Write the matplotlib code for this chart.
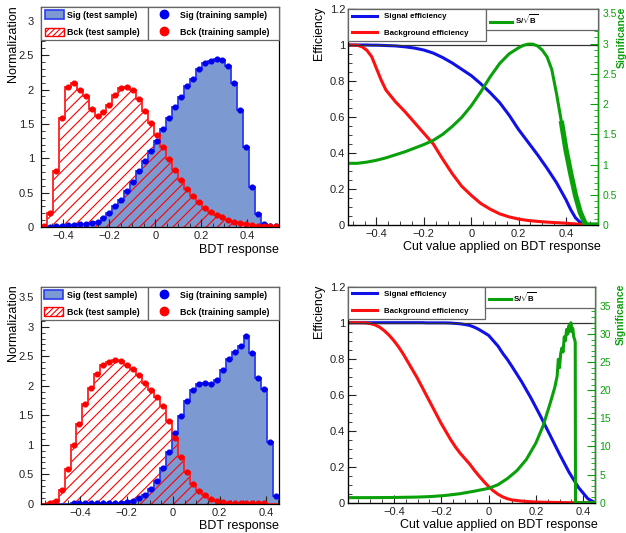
import numpy as np
import matplotlib
matplotlib.use('Agg')
import matplotlib.pyplot as plt
from matplotlib.patches import Patch
from matplotlib.lines import Line2D
from matplotlib.ticker import MultipleLocator, FuncFormatter

plt.rcParams['font.family'] = ['Liberation Sans', 'DejaVu Sans']
plt.rcParams['hatch.linewidth'] = 0.8
plt.rcParams['mathtext.fontset'] = 'custom'
plt.rcParams['mathtext.bf'] = 'Liberation Sans:bold'

SIG_FILL = '#7d99d1'
GREEN = '#0aa00a'

# ---------------- BDT output distributions (40 bins, normalised) ----------------
top_range = (-0.497, 0.537)
top_sig = [0.0, 0.005, 0.01, 0.02, 0.03, 0.035, 0.04, 0.05, 0.06, 0.08,
           0.13, 0.21, 0.30, 0.40, 0.52, 0.66, 0.81, 0.96, 1.10, 1.25,
           1.43, 1.58, 1.74, 1.89, 2.05, 2.16, 2.30, 2.38, 2.42, 2.45,
           2.43, 2.34, 2.10, 1.70, 1.17, 0.58, 0.19, 0.04, 0.02, 0.01]
top_bkg = [0.02, 0.20, 0.82, 1.59, 2.04, 2.10, 1.99, 1.90, 1.72, 1.61,
           1.67, 1.78, 1.92, 2.02, 2.04, 1.99, 1.86, 1.69, 1.52, 1.34,
           1.17, 0.99, 0.83, 0.68, 0.55, 0.45, 0.36, 0.28, 0.22, 0.17,
           0.14, 0.10, 0.08, 0.06, 0.04, 0.03, 0.02, 0.02, 0.01, 0.01]

bot_range = (-0.569, 0.457)
bot_sig = [0.0, 0.0, 0.0, 0.0, 0.0, 0.005, 0.005, 0.005, 0.005, 0.005,
           0.01, 0.01, 0.015, 0.02, 0.03, 0.05, 0.09, 0.15, 0.25, 0.38,
           0.60, 0.87, 1.20, 1.49, 1.74, 1.92, 2.03, 2.04, 2.03, 2.09,
           2.26, 2.46, 2.57, 2.68, 2.85, 2.56, 2.14, 1.94, 1.04, 0.13]
bot_bkg = [0.0, 0.01, 0.05, 0.24, 0.59, 1.00, 1.36, 1.69, 1.96, 2.20,
           2.35, 2.41, 2.44, 2.42, 2.35, 2.28, 2.18, 2.05, 1.93, 1.81,
           1.66, 1.41, 1.11, 0.80, 0.53, 0.33, 0.22, 0.14, 0.08, 0.05,
           0.03, 0.02, 0.02, 0.01, 0.01, 0.01, 0.01, 0.01, 0.0, 0.0]

# ---------------- efficiency curves (top) ----------------
top_cut = [-0.52, -0.48, -0.46, -0.44, -0.42, -0.40, -0.38, -0.36, -0.32, -0.28,
           -0.24, -0.20, -0.16, -0.12, -0.08, -0.04, 0.0, 0.04, 0.08, 0.12,
           0.16, 0.20, 0.24, 0.28, 0.32, 0.36, 0.40, 0.42, 0.44, 0.46,
           0.48, 0.50, 0.535]
top_eff_s = [1.0, 1.0, 1.0, 1.0, 0.999, 0.999, 0.998, 0.997, 0.995, 0.99,
             0.983, 0.972, 0.955, 0.93, 0.90, 0.865, 0.83, 0.785, 0.735, 0.68,
             0.61, 0.53, 0.46, 0.39, 0.315, 0.235, 0.14, 0.085, 0.04, 0.015,
             0.004, 0.0, 0.0]
top_eff_b = [1.0, 0.998, 0.99, 0.97, 0.935, 0.87, 0.805, 0.75, 0.685, 0.63,
             0.57, 0.51, 0.45, 0.365, 0.285, 0.215, 0.165, 0.12, 0.088, 0.062,
             0.045, 0.033, 0.025, 0.02, 0.016, 0.013, 0.01, 0.008, 0.006, 0.004,
             0.002, 0.0, 0.0]
top_sig_cut = [-0.52, -0.48, -0.44, -0.40, -0.36, -0.32, -0.28, -0.24, -0.20, -0.16,
               -0.12, -0.08, -0.04, 0.0, 0.04, 0.08, 0.12, 0.16, 0.20, 0.22,
               0.24, 0.26, 0.28, 0.30, 0.32, 0.34, 0.36, 0.38, 0.40, 0.42,
               0.44, 0.46, 0.48, 0.49, 0.535]
top_signif = [1.02, 1.02, 1.04, 1.07, 1.11, 1.16, 1.21, 1.27, 1.33, 1.40,
              1.50, 1.63, 1.78, 1.97, 2.20, 2.45, 2.67, 2.83, 2.93, 2.97,
              2.99, 2.99, 2.96, 2.89, 2.78, 2.57, 2.17, 1.72, 1.24, 0.85,
              0.49, 0.21, 0.03, 0.0, 0.0]

# ---------------- efficiency curves (bottom) ----------------
bot_cut = [-0.594, -0.56, -0.52, -0.50, -0.48, -0.46, -0.44, -0.42, -0.40, -0.38,
           -0.36, -0.34, -0.32, -0.30, -0.28, -0.26, -0.24, -0.22, -0.20, -0.18,
           -0.16, -0.14, -0.12, -0.10, -0.08, -0.06, -0.04, -0.02, 0.0, 0.02,
           0.04, 0.06, 0.08, 0.10, 0.14, 0.18, 0.22, 0.26, 0.30, 0.34,
           0.38, 0.42, 0.45]
bot_eff_s = [1.0, 1.0, 1.0, 1.0, 1.0, 1.0, 1.0, 1.0, 1.0, 1.0,
             1.0, 1.0, 1.0, 1.0, 1.0, 0.999, 0.999, 0.999, 0.999, 0.999,
             0.998, 0.996, 0.994, 0.99, 0.985, 0.975, 0.962, 0.946, 0.93, 0.90,
             0.87, 0.83, 0.795, 0.755, 0.672, 0.58, 0.48, 0.375, 0.27, 0.17,
             0.085, 0.022, 0.0]
bot_eff_b = [1.0, 1.0, 0.999, 0.995, 0.988, 0.975, 0.955, 0.93, 0.90, 0.865,
             0.825, 0.78, 0.735, 0.69, 0.64, 0.59, 0.54, 0.49, 0.44, 0.395,
             0.35, 0.31, 0.275, 0.245, 0.215, 0.18, 0.148, 0.118, 0.09, 0.066,
             0.047, 0.032, 0.022, 0.015, 0.009, 0.005, 0.003, 0.002, 0.001, 0.0,
             0.0, 0.0, 0.0]
bot_sig_cut = [-0.594, -0.50, -0.40, -0.30, -0.24, -0.18, -0.12, -0.06, 0.0, 0.04,
               0.08, 0.12, 0.16, 0.20, 0.23, 0.26, 0.28, 0.29, 0.295, 0.30,
               0.305, 0.31, 0.315, 0.32, 0.325, 0.33, 0.335, 0.34, 0.345, 0.348,
               0.352, 0.356, 0.36, 0.364, 0.3665, 0.3675, 0.45]
bot_signif = [0.9, 0.9, 0.93, 1.0, 1.1, 1.3, 1.6, 2.05, 2.55, 3.2,
              4.3, 5.7, 7.7, 10.6, 13.6, 17.6, 20.5, 22.5, 25.5, 24.0,
              26.5, 27.5, 26.8, 29.5, 28.8, 30.8, 30.0, 31.5, 30.5, 32.0,
              30.5, 31.0, 29.5, 29.0, 28.5, 0.0, 0.0]


def root_fmt(v, pos):
    return ('%g' % (round(v, 6) + 0.0)).replace('-', '\u2212')


def style_axis(ax, xmaj, xmin, ymaj, ymin, ypad):
    ax.xaxis.set_major_locator(MultipleLocator(xmaj))
    ax.xaxis.set_minor_locator(MultipleLocator(xmin))
    ax.yaxis.set_major_locator(MultipleLocator(ymaj))
    ax.yaxis.set_minor_locator(MultipleLocator(ymin))
    ax.xaxis.set_major_formatter(FuncFormatter(root_fmt))
    ax.yaxis.set_major_formatter(FuncFormatter(root_fmt))
    ax.tick_params(which='both', direction='in', labelsize=8, colors='#222222')
    ax.tick_params(which='major', length=6)
    ax.tick_params(which='minor', length=3)
    ax.tick_params(axis='x', pad=3)
    ax.tick_params(axis='y', pad=ypad)
    for sp in ax.spines.values():
        sp.set_linewidth(0.9)


def draw_mva(ax, rng, sig, bkg, ymax, ymaj):
    sig = np.array(sig)
    bkg = np.array(bkg)
    edges = np.linspace(rng[0], rng[1], len(sig) + 1)
    centers = 0.5 * (edges[1:] + edges[:-1])
    bw = edges[1] - edges[0]
    ax.stairs(sig, edges, fill=True, color=SIG_FILL, lw=0)
    ax.stairs(bkg, edges, fill=True, facecolor='none', edgecolor='red', hatch='///', lw=0)
    ax.stairs(sig, edges, color='#2a3cf0', lw=1.3)
    ax.stairs(bkg, edges, color='#ff2020', lw=1.3)
    m = sig > 0.003
    ax.errorbar(centers[m], sig[m], xerr=bw / 2, fmt='o', ms=3.4, color='#0000ee',
                elinewidth=0.8, capsize=0)
    m = bkg > 0.003
    ax.errorbar(centers[m], bkg[m], xerr=bw / 2, fmt='o', ms=3.4, color='#ff0000',
                elinewidth=0.8, capsize=0)
    ax.set_xlim(rng)
    ax.set_ylim(0, ymax)
    style_axis(ax, 0.2, 0.05, ymaj, 0.1, 5)
    ax.set_ylabel('Normalization', fontsize=9, loc='top')
    ax.yaxis.set_label_coords(-0.092, 1.01)
    ax.set_xlabel('BDT response', fontsize=9, loc='right')
    ax.xaxis.set_label_coords(1.0, -0.075)

    lfont = {'weight': 'bold', 'size': 6.3}
    h1 = [Patch(facecolor=SIG_FILL, edgecolor='#2a3cf0', lw=1.2),
          Patch(facecolor='white', edgecolor='red', hatch='//////', lw=1.0)]
    leg1 = ax.legend(h1, ['Sig (test sample)', 'Bck (test sample)'], loc='upper left',
                     bbox_to_anchor=(0, 0, 0.45, 1), mode='expand', prop=lfont,
                     handlelength=2.2, handleheight=1.15, handletextpad=0.35,
                     borderpad=0.4, labelspacing=0.9, borderaxespad=0,
                     fancybox=False, edgecolor='#666666', framealpha=1)
    leg1.get_frame().set_linewidth(0.9)
    ax.add_artist(leg1)
    h2 = [Line2D([], [], marker='o', ls='none', ms=6, color='#0000ee'),
          Line2D([], [], marker='o', ls='none', ms=6, color='#ff0000')]
    leg2 = ax.legend(h2, ['Sig (training sample)', 'Bck (training sample)'], loc='upper left',
                     bbox_to_anchor=(0.45, 0, 0.55, 1), mode='expand', prop=lfont,
                     handlelength=2.85, handleheight=1.15, handletextpad=0.35,
                     borderpad=0.4, labelspacing=0.9, borderaxespad=0,
                     fancybox=False, edgecolor='#666666', framealpha=1)
    leg2.get_frame().set_linewidth(0.9)


def draw_eff(ax, rng, cut, eff_s, eff_b, scut, signif, smax, smaj, smin,
             sig_label_x, thick_from=None):
    ax.plot(cut, eff_s, color='#1010e8', lw=2.2)
    ax.plot(cut, eff_b, color='#ff1010', lw=2.2)
    ax.axhline(1.0, color='#333333', lw=0.9)
    ax.set_xlim(rng)
    ax.set_ylim(0, 1.2)
    style_axis(ax, 0.2, 0.05, 0.2, 0.05, 2)
    ax.set_ylabel('Efficiency', fontsize=9, loc='top')
    ax.yaxis.set_label_coords(-0.092, 1.01)
    ax.set_xlabel('Cut value applied on BDT response', fontsize=9, loc='right')
    ax.xaxis.set_label_coords(1.01, -0.075)

    ax2 = ax.twinx()
    ax2.plot(scut, signif, color=GREEN, lw=2.2)
    if thick_from is not None:
        # the noisy tail of S/sqrt(B) renders as a broader band
        sc = np.array(scut)
        sv = np.array(signif)
        k = sc >= thick_from
        ax2.plot(sc[k], sv[k], color=GREEN, lw=3.8, solid_capstyle='butt')
    ax2.set_ylim(0, smax)
    ax2.yaxis.set_major_locator(MultipleLocator(smaj))
    ax2.yaxis.set_minor_locator(MultipleLocator(smin))
    ax2.yaxis.set_major_formatter(FuncFormatter(root_fmt))
    ax2.tick_params(which='both', direction='in', labelsize=7.5, colors=GREEN, pad=3)
    ax2.tick_params(which='major', length=6)
    ax2.tick_params(which='minor', length=3)
    ax2.spines['right'].set_color(GREEN)
    ax2.spines['right'].set_linewidth(1.0)
    ax2.set_ylabel('Significance', fontsize=7.5, color=GREEN, fontweight='bold', loc='top')
    ax2.yaxis.set_label_coords(sig_label_x, 1.012)

    lfont = {'weight': 'bold', 'size': 5.7}
    h1 = [Line2D([], [], color='#1010e8', lw=2.2), Line2D([], [], color='#ff1010', lw=2.2)]
    leg1 = ax2.legend(h1, ['Signal efficiency', 'Background efficiency'], loc='upper left',
                      bbox_to_anchor=(0, 0, 0.553, 1), mode='expand', prop=lfont,
                      handlelength=3.15, handletextpad=0.85, borderpad=0.5,
                      labelspacing=1.15, borderaxespad=0,
                      fancybox=False, edgecolor='#666666', framealpha=1)
    leg1.get_frame().set_linewidth(0.9)
    ax2.add_artist(leg1)
    h2 = [Line2D([], [], color=GREEN, lw=2.2)]
    leg2 = ax2.legend(h2, [r'S/$\sqrt{\mathbf{B}}$'], loc='upper left',
                      bbox_to_anchor=(0.553, 0, 0.447, 1), mode='expand', prop=lfont,
                      handlelength=2.8, handletextpad=0.3, borderpad=0.5, borderaxespad=0,
                      fancybox=False, edgecolor='#666666', framealpha=1)
    leg2.get_frame().set_linewidth(0.9)
    return ax2


fig = plt.figure(figsize=(6.26, 5.33), dpi=100)
W, H = 626.0, 533.0
ax_tl = fig.add_axes([41 / W, 1 - 227 / H, 238 / W, 220 / H])
ax_tr = fig.add_axes([348 / W, 1 - 225 / H, 250 / W, 216 / H])
ax_bl = fig.add_axes([40.7 / W, 1 - 503.7 / H, 238.6 / W, 217 / H])
ax_br = fig.add_axes([348 / W, 1 - 502.7 / H, 247 / W, 216 / H])

draw_mva(ax_tl, top_range, top_sig, top_bkg, 3.2, 0.5)
draw_mva(ax_bl, bot_range, bot_sig, bot_bkg, 3.68, 0.5)
draw_eff(ax_tr, (-0.52, 0.535), top_cut, top_eff_s, top_eff_b,
         top_sig_cut, top_signif, 3.571, 0.5, 0.1, 1.073, thick_from=0.37)
draw_eff(ax_br, (-0.594, 0.45), bot_cut, bot_eff_s, bot_eff_b,
         bot_sig_cut, bot_signif, 38.4, 5, 1, 1.085)

fig.savefig('out.png', dpi=100)
